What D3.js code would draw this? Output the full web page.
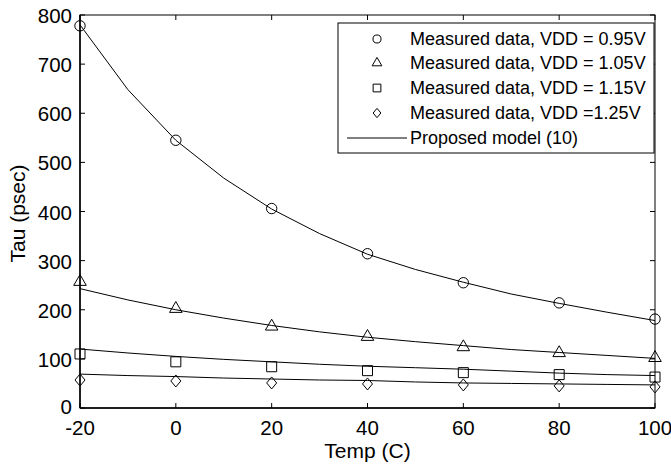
<!DOCTYPE html>
<html><head><meta charset="utf-8">
<script src="https://cdn.jsdelivr.net/npm/d3@7"></script>
<style>body{margin:0;background:#fff}svg{display:block}text{font-family:"Liberation Sans",Arial,sans-serif;fill:#000}</style>
</head><body><svg id="c" width="671" height="467"></svg>
<script>
const temps = [-20, 0, 20, 40, 60, 80, 100];
const meas095 = [778, 545, 406, 314, 255, 214, 181];
const meas105 = [257, 202, 166, 145, 124, 112, 102];
const meas115 = [110, 94, 84, 76, 72, 68, 63];
const meas125 = [57, 55, 51, 49, 47, 45, 43];
const modelT = [-20, -10, 0, 10, 20, 30, 40, 50, 60, 70, 80, 90, 100];
const model095 = [780, 648, 545, 468, 405, 355, 313, 282, 256, 232, 213, 195, 178];
const model105 = [243, 220, 200, 183, 168, 155, 144, 135, 127, 119, 113, 107, 101];
const model115 = [120, 112, 105, 99, 94, 89, 85, 82, 79, 75, 71, 68, 66];
const model125 = [69, 66, 64, 61, 59, 57, 56, 53, 51, 50, 49, 48, 47];
const xTicks = [-20, 0, 20, 40, 60, 80, 100];
const yTicks = [0, 100, 200, 300, 400, 500, 600, 700, 800];
const legendLabels = ["Measured data, VDD = 0.95V","Measured data, VDD = 1.05V","Measured data, VDD = 1.15V","Measured data, VDD =1.25V","Proposed model (10)"];

const svg = d3.select("#c");
const L=80,R=655,T=15,B=408;
const x = d3.scaleLinear().domain([-20,100]).range([L,R]);
const y = d3.scaleLinear().domain([0,800]).range([B,T]);

svg.append("rect").attr("x",L).attr("y",T).attr("width",R-L).attr("height",B-T).attr("fill","none").attr("stroke","#000").attr("stroke-width",1);
const tk=5;
const g = svg.append("g").attr("stroke","#000").attr("stroke-width",1);
xTicks.forEach(t=>{
  g.append("line").attr("x1",x(t)).attr("x2",x(t)).attr("y1",B).attr("y2",B-tk);
  g.append("line").attr("x1",x(t)).attr("x2",x(t)).attr("y1",T).attr("y2",T+tk);
});
yTicks.forEach(t=>{
  g.append("line").attr("x1",L).attr("x2",L+tk).attr("y1",y(t)).attr("y2",y(t));
  g.append("line").attr("x1",R).attr("x2",R-tk).attr("y1",y(t)).attr("y2",y(t));
});
svg.append("line").attr("x1",L).attr("x2",R).attr("y1",B).attr("y2",B).attr("stroke","#000").attr("stroke-width",1.5);
svg.append("line").attr("x1",L).attr("x2",L).attr("y1",T).attr("y2",B).attr("stroke","#000").attr("stroke-width",1.5);

svg.selectAll(".xl").data(xTicks).enter().append("text").attr("x",d=>x(d)).attr("y",435).attr("text-anchor","middle").attr("font-size",20.5).text(d=>d);
svg.selectAll(".yl").data(yTicks).enter().append("text").attr("x",L-8).attr("y",d=>y(d)+(d===0?6:8)).attr("text-anchor","end").attr("font-size",20.5).text(d=>d);
svg.append("text").attr("x",(L+R)/2).attr("y",458).attr("text-anchor","middle").attr("font-size",21).text("Temp (C)");
svg.append("text").attr("transform",`translate(25,${(T+B)/2+2}) rotate(-90)`).attr("text-anchor","middle").attr("font-size",21).text("Tau (psec)");

const line = d3.line().x(d=>x(d[0])).y(d=>y(d[1]));
[model095,model105,model115,model125].forEach(m=>{
  svg.append("path").attr("d",line(modelT.map((t,i)=>[t,m[i]]))).attr("fill","none").attr("stroke","#000").attr("stroke-width",1);
});

function diamond(w,h){ return `M0,${-h/2}L${w/2},0L0,${h/2}L${-w/2},0Z`; }
const markerPath = {
  circle: (k)=>d3.symbol().type(d3.symbolCircle).size(85*k)(),
  tri: (k)=>d3.symbol().type(d3.symbolTriangle).size(68*k)(),
  sq: (k)=>d3.symbol().type(d3.symbolSquare).size(100*k)(),
  dia: (k)=>diamond(10*Math.sqrt(k),12*Math.sqrt(k))
};
const series = [[meas095,"circle"],[meas105,"tri"],[meas115,"sq"],[meas125,"dia"]];
series.forEach(([vals,s])=>{
  svg.selectAll(null).data(temps.map((t,i)=>[t,vals[i]])).enter().append("path")
    .attr("d",markerPath[s](1)).attr("transform",d=>`translate(${x(d[0])},${y(d[1])})`)
    .attr("fill","none").attr("stroke","#000").attr("stroke-width",1);
});

const lg = svg.append("g");
lg.append("rect").attr("x",338).attr("y",23).attr("width",316).attr("height",130).attr("fill","#fff").attr("stroke","#000").attr("stroke-width",1);
const rowY = [39,63,88,113,138];
legendLabels.forEach((lab,i)=>{
  lg.append("text").attr("x",410).attr("y",rowY[i]+6).attr("font-size",18).text(lab);
  if(i<4){
    const s=series[i][1];
    lg.append("path").attr("d",markerPath[s](0.6))
      .attr("transform",`translate(377,${rowY[i]})`).attr("fill","none").attr("stroke","#000").attr("stroke-width",1);
  } else {
    lg.append("line").attr("x1",347).attr("x2",407).attr("y1",rowY[i]).attr("y2",rowY[i]).attr("stroke","#000").attr("stroke-width",1);
  }
});
</script></body></html>
